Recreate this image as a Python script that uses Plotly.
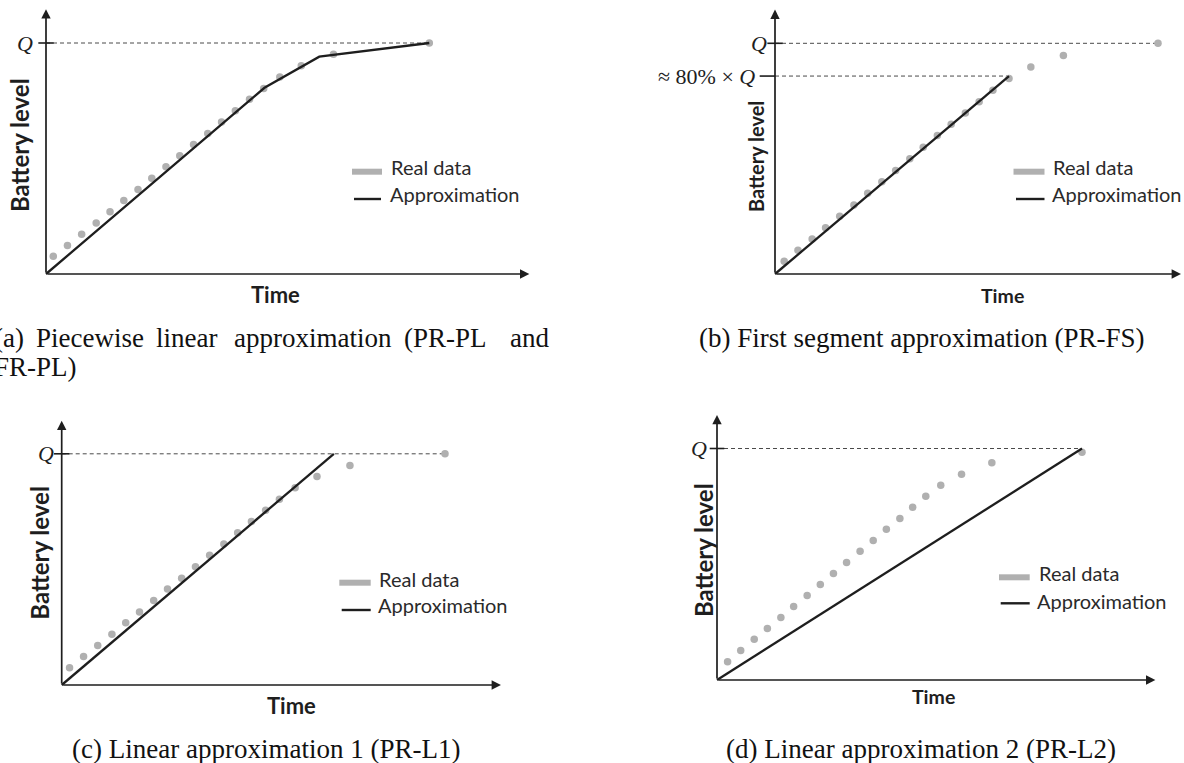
import plotly.graph_objects as go

W, H = 1184, 763

# ---------------- data (time and battery level, % of Q) ----------------
a_time = [1.9, 5.6, 9.3, 13.1, 16.7, 20.3, 24.0, 27.6, 31.3, 34.9, 38.5, 42.2, 45.8, 49.4, 53.1, 56.8, 61.0, 66.6, 75.0, 100]
a_level = [7.7, 12.3, 17.2, 22.1, 27.0, 31.8, 36.6, 41.5, 46.4, 51.2, 56.1, 60.8, 65.8, 70.7, 75.6, 80.3, 85.3, 90.2, 95.1, 100]
a_approx_time = [0, 57.0, 71.3, 100]
a_approx_level = [0, 80.6, 94.1, 100]

b_time = [2.4, 6.0, 9.7, 13.2, 16.9, 20.6, 24.2, 27.9, 31.5, 35.2, 38.7, 42.4, 46.0, 49.7, 53.3, 56.9, 61.1, 66.8, 75.3, 100]
b_level = [5.5, 10.3, 15.2, 20.1, 25.0, 29.9, 35.0, 40.0, 44.9, 50.0, 54.9, 60.0, 64.9, 69.8, 74.7, 79.6, 84.7, 89.7, 94.7, 100]
b_approx_time = [0, 61.1]
b_approx_level = [0, 85.8]

c_time = [2.05, 5.7, 9.4, 13.1, 16.7, 20.3, 24.0, 27.6, 31.3, 34.9, 38.6, 42.3, 45.9, 49.5, 53.2, 56.8, 60.9, 66.6, 75.2, 100]
c_level = [7.5, 12.3, 17.1, 22.0, 26.9, 31.6, 36.6, 41.5, 46.2, 51.2, 56.1, 61.0, 65.8, 70.7, 75.6, 80.3, 85.3, 90.2, 94.9, 100]
c_approx_time = [0, 71.0]
c_approx_level = [0, 100]

d_time = [2.9, 6.5, 10.2, 13.8, 17.5, 21.0, 24.7, 28.3, 31.9, 35.5, 39.2, 42.8, 46.4, 50.1, 53.6, 57.2, 61.3, 67.0, 75.3, 100]
d_level = [7.9, 12.7, 17.6, 22.2, 27.0, 31.7, 36.5, 41.3, 46.0, 50.8, 55.6, 60.3, 65.1, 69.8, 74.6, 79.4, 84.1, 88.9, 93.8, 98.4]
d_approx_time = [0, 100]
d_approx_level = [0, 100]

Q_LEVEL = 100
B_SEG_LEVEL = 85.8      # "≈ 80% × Q" level in panel (b)
B_SEG_TIME = 61.1

captions = {
    "b": "(b) First segment approximation (PR-FS)",
    "c": "(c) Linear approximation 1 (PR-L1)",
    "d": "(d) Linear approximation 2 (PR-L2)",
}
caption_a_words = ["(a)", "Piecewise", "linear", "approximation", "(PR-PL", "and"]
caption_a_line2 = "FR-PL)"

# ---------------- layout (pixel geometry of each panel) ----------------
panels = [
    dict(k="a", t=a_time, l=a_level, at=a_approx_time, al=a_approx_level,
         ox=46.0, oy=274.0, sx=3.833, sy=2.31, box=(20, 0, 560, 300), xend=126.1, yend=114.6,
         qx=25, blx=19, bly=145, bls=24, tx=275, ty=294, ts=22,
         leg=(352, 382, 171.7, 389, 167, 354, 381, 199, 387.5, 194)),
    dict(k="b", t=b_time, l=b_level, at=b_approx_time, al=b_approx_level,
         ox=775.0, oy=274.0, sx=3.83, sy=2.307, box=(700, 0, 1184, 300), xend=106.0, yend=114.6,
         qx=759, blx=756, bly=157, bls=20, tx=1002.5, ty=296, ts=19.5,
         leg=(1013.5, 1044.5, 171.7, 1051, 167, 1016, 1044.5, 199, 1050, 194)),
    dict(k="c", t=c_time, l=c_level, at=c_approx_time, al=c_approx_level,
         ox=61.7, oy=685.0, sx=3.833, sy=2.312, box=(20, 400, 560, 720), xend=114.6, yend=114.3,
         qx=46, blx=38.7, bly=553, bls=24, tx=291, ty=705, ts=22,
         leg=(339.3, 370.7, 582.7, 377.3, 579, 341.7, 370.7, 610, 375.7, 605)),
    dict(k="d", t=d_time, l=d_level, at=d_approx_time, al=d_approx_level,
         ox=717.0, oy=680.0, sx=3.65, sy=2.315, box=(680, 400, 1184, 720), xend=120.1, yend=114.5,
         qx=698.5, blx=703, bly=550, bls=24, tx=933.8, ty=696, ts=19.5,
         leg=(999, 1029.7, 577.3, 1036.7, 572.7, 1000.7, 1029.7, 603.3, 1034.7, 600.7)),
]

DOT = "#b0b0b0"
INK = "#1e1e1e"
DASH = "#4a4a4a"
SANS = "Lato, 'Open Sans', sans-serif"
SERIF = "'Liberation Serif', 'DejaVu Serif', serif"


def px(x):
    return x / W


def py(y):
    return 1 - y / H


fig = go.Figure()
shapes = []
annotations = []

for i, p in enumerate(panels):
    n = "" if i == 0 else str(i + 1)
    xa, ya = "x" + n, "y" + n
    left, top, right, bottom = p["box"]
    fig.update_layout(**{
        "xaxis" + n: dict(domain=[px(left), px(right)],
                          range=[(left - p["ox"]) / p["sx"], (right - p["ox"]) / p["sx"]],
                          visible=False, fixedrange=True, anchor=ya),
        "yaxis" + n: dict(domain=[py(bottom), py(top)],
                          range=[(p["oy"] - bottom) / p["sy"], (p["oy"] - top) / p["sy"]],
                          visible=False, fixedrange=True, anchor=xa),
    })

    # dashed reference line at Q
    shapes.append(dict(type="line", xref=xa, yref=ya, x0=0, x1=p["t"][-1], y0=Q_LEVEL, y1=Q_LEVEL,
                       line=dict(color=DASH, width=1, dash="4px,3px"), layer="below"))
    # tick at Q
    shapes.append(dict(type="line", xref=xa, yref=ya, x0=-2.0, x1=2.0, y0=Q_LEVEL, y1=Q_LEVEL,
                       line=dict(color=INK, width=1.6)))
    annotations.append(dict(xref="paper", yref=ya, x=px(p["qx"]), y=Q_LEVEL, text="<i>Q</i>",
                            showarrow=False, xanchor="center", yanchor="middle",
                            font=dict(family=SERIF, size=22, color=INK)))
    if p["k"] == "b":
        shapes.append(dict(type="line", xref=xa, yref=ya, x0=0, x1=B_SEG_TIME, y0=B_SEG_LEVEL, y1=B_SEG_LEVEL,
                           line=dict(color=DASH, width=1, dash="4px,3px"), layer="below"))
        shapes.append(dict(type="line", xref=xa, yref=ya, x0=-4.0, x1=0, y0=B_SEG_LEVEL, y1=B_SEG_LEVEL,
                           line=dict(color=INK, width=1.6)))
        annotations.append(dict(xref="paper", yref=ya, x=px(757), y=B_SEG_LEVEL,
                                text="≈ 80% × <i>Q</i>", showarrow=False, xanchor="right", yanchor="middle",
                                font=dict(family=SERIF, size=22, color=INK)))

    # axes with arrow heads
    annotations.append(dict(xref=xa, yref=ya, axref=xa, ayref=ya, x=p["xend"], y=0, ax=0, ay=0, text="",
                            showarrow=True, arrowhead=2, arrowsize=1.1, arrowwidth=1.7, arrowcolor=INK,
                            standoff=0, startstandoff=0))
    annotations.append(dict(xref=xa, yref=ya, axref=xa, ayref=ya, x=0, y=p["yend"], ax=0, ay=0, text="",
                            showarrow=True, arrowhead=2, arrowsize=1.1, arrowwidth=1.7, arrowcolor=INK,
                            standoff=0, startstandoff=0))

    # data
    fig.add_trace(go.Scatter(x=p["t"], y=p["l"], mode="markers", xaxis=xa, yaxis=ya,
                             marker=dict(size=7.5, color=DOT, line=dict(width=0)),
                             showlegend=False, hoverinfo="skip", cliponaxis=False))
    fig.add_trace(go.Scatter(x=p["at"], y=p["al"], mode="lines", xaxis=xa, yaxis=ya,
                             line=dict(color=INK, width=2.3),
                             showlegend=False, hoverinfo="skip", cliponaxis=False))

    # axis titles
    annotations.append(dict(xref="paper", yref="paper", x=px(p["blx"]), y=py(p["bly"]), text="<b>Battery level</b>",
                            textangle=-90, showarrow=False, xanchor="center", yanchor="middle",
                            font=dict(family=SANS, size=p["bls"], color=INK)))
    annotations.append(dict(xref="paper", yref="paper", x=px(p["tx"]), y=py(p["ty"]), text="<b>Time</b>",
                            showarrow=False, xanchor="center", yanchor="middle",
                            font=dict(family=SANS, size=p["ts"], color=INK)))

    # legend drawn by hand
    bx0, bx1, by, t1x, t1y, lx0, lx1, ly, t2x, t2y = p["leg"]
    shapes.append(dict(type="line", xref="paper", yref="paper", x0=px(bx0), x1=px(bx1), y0=py(by), y1=py(by),
                       line=dict(color=DOT, width=6)))
    shapes.append(dict(type="line", xref="paper", yref="paper", x0=px(lx0), x1=px(lx1), y0=py(ly), y1=py(ly),
                       line=dict(color=INK, width=2.4)))
    annotations.append(dict(xref="paper", yref="paper", x=px(t1x), y=py(t1y), text="Real data",
                            showarrow=False, xanchor="left", yanchor="middle",
                            font=dict(family=SANS, size=20, color="#2a2a2a")))
    annotations.append(dict(xref="paper", yref="paper", x=px(t2x), y=py(t2y), text="Approximation",
                            showarrow=False, xanchor="left", yanchor="middle",
                            font=dict(family=SANS, size=20, color="#2a2a2a")))

# captions
cap_font = dict(family=SERIF, size=27, color="#111")
word_centers = [8.5, 89.6, 186.4, 312.8, 445.4, 529.6]
for w, cx in zip(caption_a_words, word_centers):
    annotations.append(dict(xref="paper", yref="paper", x=px(cx), y=py(338), text=w, showarrow=False,
                            xanchor="center", yanchor="middle", font=cap_font))
annotations.append(dict(xref="paper", yref="paper", x=px(-7.7), y=py(366.7), text=caption_a_line2,
                        showarrow=False, xanchor="left", yanchor="middle", font=cap_font))
annotations.append(dict(xref="paper", yref="paper", x=px(921), y=py(338), text=captions["b"], showarrow=False,
                        xanchor="center", yanchor="middle", font=cap_font))
annotations.append(dict(xref="paper", yref="paper", x=px(266), y=py(749), text=captions["c"], showarrow=False,
                        xanchor="center", yanchor="middle", font=cap_font))
annotations.append(dict(xref="paper", yref="paper", x=px(921), y=py(749), text=captions["d"], showarrow=False,
                        xanchor="center", yanchor="middle", font=cap_font))

fig.update_layout(width=W, height=H, margin=dict(l=0, r=0, t=0, b=0),
                  paper_bgcolor="white", plot_bgcolor="white",
                  shapes=shapes, annotations=annotations, showlegend=False)

fig.write_html("out.html", config={"displayModeBar": False},
               post_script="document.body.style.margin='0';document.body.style.overflow='hidden';")
